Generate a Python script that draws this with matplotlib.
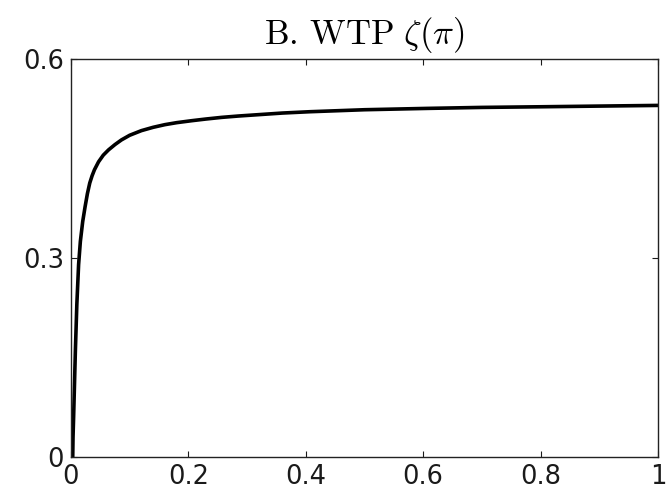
import matplotlib
matplotlib.use("Agg")
import matplotlib.pyplot as plt

pi_vals = [0.003, 0.0035, 0.0045, 0.006, 0.0075, 0.010, 0.013, 0.016, 0.020, 0.024, 0.028, 0.032,
           0.036, 0.040, 0.047, 0.055, 0.064, 0.075, 0.086, 0.10, 0.12, 0.14, 0.16, 0.18,
           0.206, 0.23, 0.257, 0.285, 0.31, 0.36, 0.407, 0.5, 0.606, 0.7, 0.804, 0.9, 1.0]
wtp_vals = [0.0, 0.03, 0.06, 0.11, 0.16, 0.23, 0.29, 0.325, 0.355, 0.377, 0.397, 0.413,
            0.424, 0.433, 0.445, 0.455, 0.463, 0.471, 0.478, 0.485, 0.492, 0.497, 0.501, 0.504,
            0.507, 0.5095, 0.512, 0.514, 0.5155, 0.5185, 0.5205, 0.5235, 0.5255, 0.527, 0.528, 0.529, 0.530]

x_ticks = [0, 0.2, 0.4, 0.6, 0.8, 1]
x_labels = ["0", "0.2", "0.4", "0.6", "0.8", "1"]
y_ticks = [0, 0.3, 0.6]
y_labels = ["0", "0.3", "0.6"]
title = r"$\mathrm{B.\,WTP}\ \zeta(\pi)$"

plt.rcParams['mathtext.fontset'] = 'cm'

fig = plt.figure(figsize=(6.67, 4.94), dpi=100)
ax = fig.add_axes([0.1064, 0.0749, 0.8801, 0.8057])
ax.plot(pi_vals, wtp_vals, color="black", lw=2.6, solid_capstyle="butt",
        solid_joinstyle="round")
ax.set_xlim(0, 1)
ax.set_ylim(0, 0.6)
ax.set_xticks(x_ticks)
ax.set_xticklabels(x_labels)
ax.set_yticks(y_ticks)
ax.set_yticklabels(y_labels)
ax.tick_params(direction="in", length=4.5, width=0.8, top=True, right=True,
               labelsize=18.5, colors="#1a1a1a", pad=5)
for lab in ax.get_xticklabels() + ax.get_yticklabels():
    lab.set_fontfamily("DejaVu Sans")
for s in ax.spines.values():
    s.set_linewidth(1.0)
    s.set_color("#222222")
ax.set_title(title, fontsize=25, pad=11)
fig.savefig("out.png", dpi=100)
